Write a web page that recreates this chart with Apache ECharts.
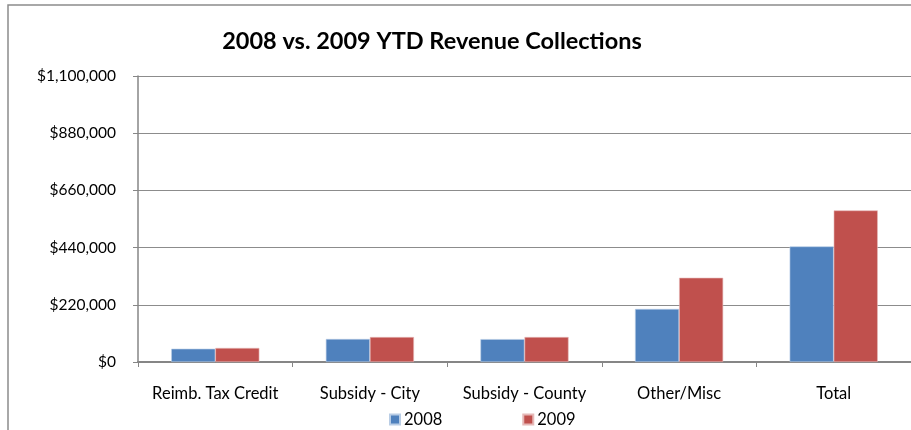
<!DOCTYPE html>
<html>
<head>
<meta charset="utf-8">
<script src="https://cdn.jsdelivr.net/npm/echarts@6/dist/echarts.min.js"></script>
<style>
    html, body { margin: 0; padding: 0; background: #fff; }
    #chart { width: 911px; height: 430px; }
</style>
</head>
<body>
<div id="chart"></div>
<script>
    // 数据
    var categories = ['Reimb. Tax Credit', 'Subsidy - City', 'Subsidy - County', 'Other/Misc', 'Total'];
    var values2008 = [51000, 88500, 88000, 204000, 444500];
    var values2009 = [54000, 96000, 96000, 324000, 583000];
    var yTicks = { min: 0, max: 1100000, interval: 220000 };

    var fontName = 'Lato';

    var chart = echarts.init(document.getElementById('chart'));
    chart.setOption({
        animation: false,
        textStyle: { fontFamily: fontName },
        title: {
            text: '2008 vs. 2009 YTD Revenue Collections',
            left: 427, top: 24, textAlign: 'center',
            textStyle: { fontFamily: fontName, fontSize: 23.5, fontWeight: 'bold', color: '#000' }
        },
        graphic: [{
            type: 'rect',
            shape: { x: 8, y: 5, width: 1000, height: 500 },
            style: { fill: 'none', stroke: '#8c8c8c', lineWidth: 1.5 },
            silent: true
        }],
        legend: {
            data: ['2008', '2009'],
            left: 384, top: 406,
            itemWidth: 10, itemHeight: 10, itemGap: 80,
            icon: 'rect',
            textStyle: { fontFamily: fontName, fontSize: 16.5, color: '#000', padding: [0, 0, 0, -1] }
        },
        grid: { left: 138, top: 76, right: -5, bottom: 68 },
        xAxis: {
            type: 'category',
            data: categories,
            axisLine: { lineStyle: { color: '#868686', width: 2 } },
            axisTick: { show: true, length: 5, alignWithLabel: false, lineStyle: { color: '#868686' } },
            axisLabel: { fontFamily: fontName, fontSize: 16.5, color: '#000', margin: 23, interval: 0, hideOverlap: false }
        },
        yAxis: {
            type: 'value',
            min: yTicks.min, max: yTicks.max, interval: yTicks.interval,
            axisLine: { show: true, lineStyle: { color: '#868686', width: 1.5 } },
            axisTick: { show: true, length: 5, lineStyle: { color: '#868686' } },
            splitLine: { lineStyle: { color: '#8c8c8c', width: 1.2 } },
            axisLabel: {
                fontFamily: fontName, fontSize: 15.5, color: '#000', margin: 22,
                formatter: function (v) { return '$' + v.toLocaleString('en-US'); }
            }
        },
        series: [
            {
                name: '2008', type: 'bar', data: values2008,
                barGap: '0%', barCategoryGap: '43%',
                itemStyle: { color: '#4F81BD', borderColor: '#b9cde5', borderWidth: 0.6 }
            },
            {
                name: '2009', type: 'bar', data: values2009,
                itemStyle: { color: '#C0504D', borderColor: '#e6b9b8', borderWidth: 0.6 }
            }
        ]
    });
</script>
</body>
</html>
